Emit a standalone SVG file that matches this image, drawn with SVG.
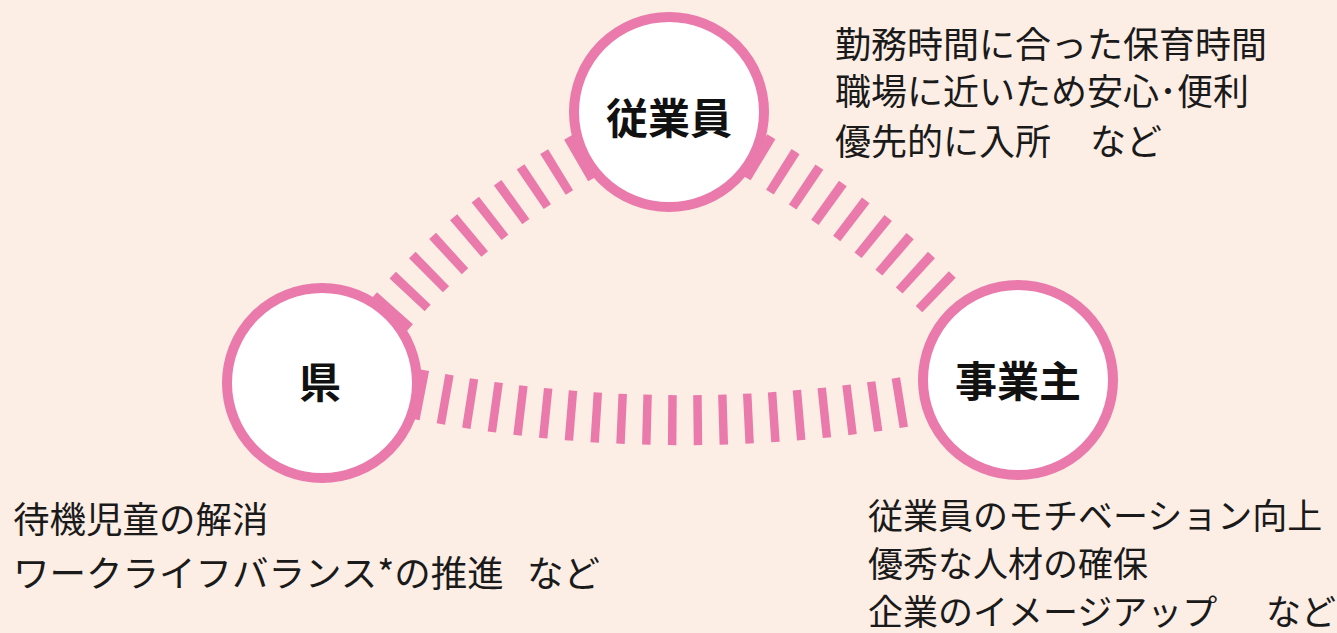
<svg xmlns="http://www.w3.org/2000/svg" width="1337" height="633" viewBox="0 0 1337 633">
<style>
.bg{fill:#FCEEE5}
.node circle{fill:#FFFFFF;stroke:#E97AAB;stroke-width:10}
.label{font-family:"Noto Sans CJK JP","Noto Sans CJK SC",sans-serif;font-weight:700;font-size:42px;fill:#111111;text-anchor:middle;dominant-baseline:central}
.conn path{fill:none;stroke:#E97AAB;stroke-dasharray:1 2}
.desc{font-family:"Noto Sans CJK JP","Noto Sans CJK SC",sans-serif;font-size:36px;fill:#1A1A1A}
.desc.sm{font-size:35px}
</style>
<rect class="bg" x="0" y="0" width="1337" height="633"/>
<g id="node-employee" class="node">
  <circle cx="669" cy="112" r="95"/>
  <text class="label" x="669" y="115">従業員</text>
</g>
<g id="node-prefecture" class="node">
  <circle cx="322" cy="383" r="95"/>
  <text class="label" x="320" y="379">県</text>
</g>
<g id="node-employer" class="node">
  <circle cx="1018" cy="380" r="95"/>
  <text class="label" x="1018" y="378">事業主</text>
</g>
<g id="connectors" class="conn">
  <path d="M389,315 Q472.6,218.5 584,156" pathLength="28" stroke-width="48"/>
  <path d="M755,155 Q855.5,213.9 939,295" pathLength="25" stroke-width="48"/>
  <path d="M416,394 Q660,442 904,402" pathLength="58" stroke-width="50"/>
</g>
<g id="text-employee">
  <text class="desc" x="835" y="58">勤務時間に合った保育時間</text>
  <text class="desc" x="835" y="105">職場に近いため安心･便利</text>
  <text class="desc" x="835" y="155">優先的に入所<tspan x="1090">など</tspan></text>
</g>
<g id="text-prefecture">
  <text class="desc" x="13" y="533" style="font-size:36.5px">待機児童の解消</text>
  <text class="desc" x="13" y="587" style="font-size:36.5px">ワークライフバランス*の推進<tspan x="527">など</tspan></text>
</g>
<g id="text-employer">
  <text class="desc sm" x="868" y="529">従業員のモチベーション向上</text>
  <text class="desc sm" x="868" y="577">優秀な人材の確保</text>
  <text class="desc sm" x="868" y="625">企業のイメージアップ<tspan x="1266">など</tspan></text>
</g>
</svg>
